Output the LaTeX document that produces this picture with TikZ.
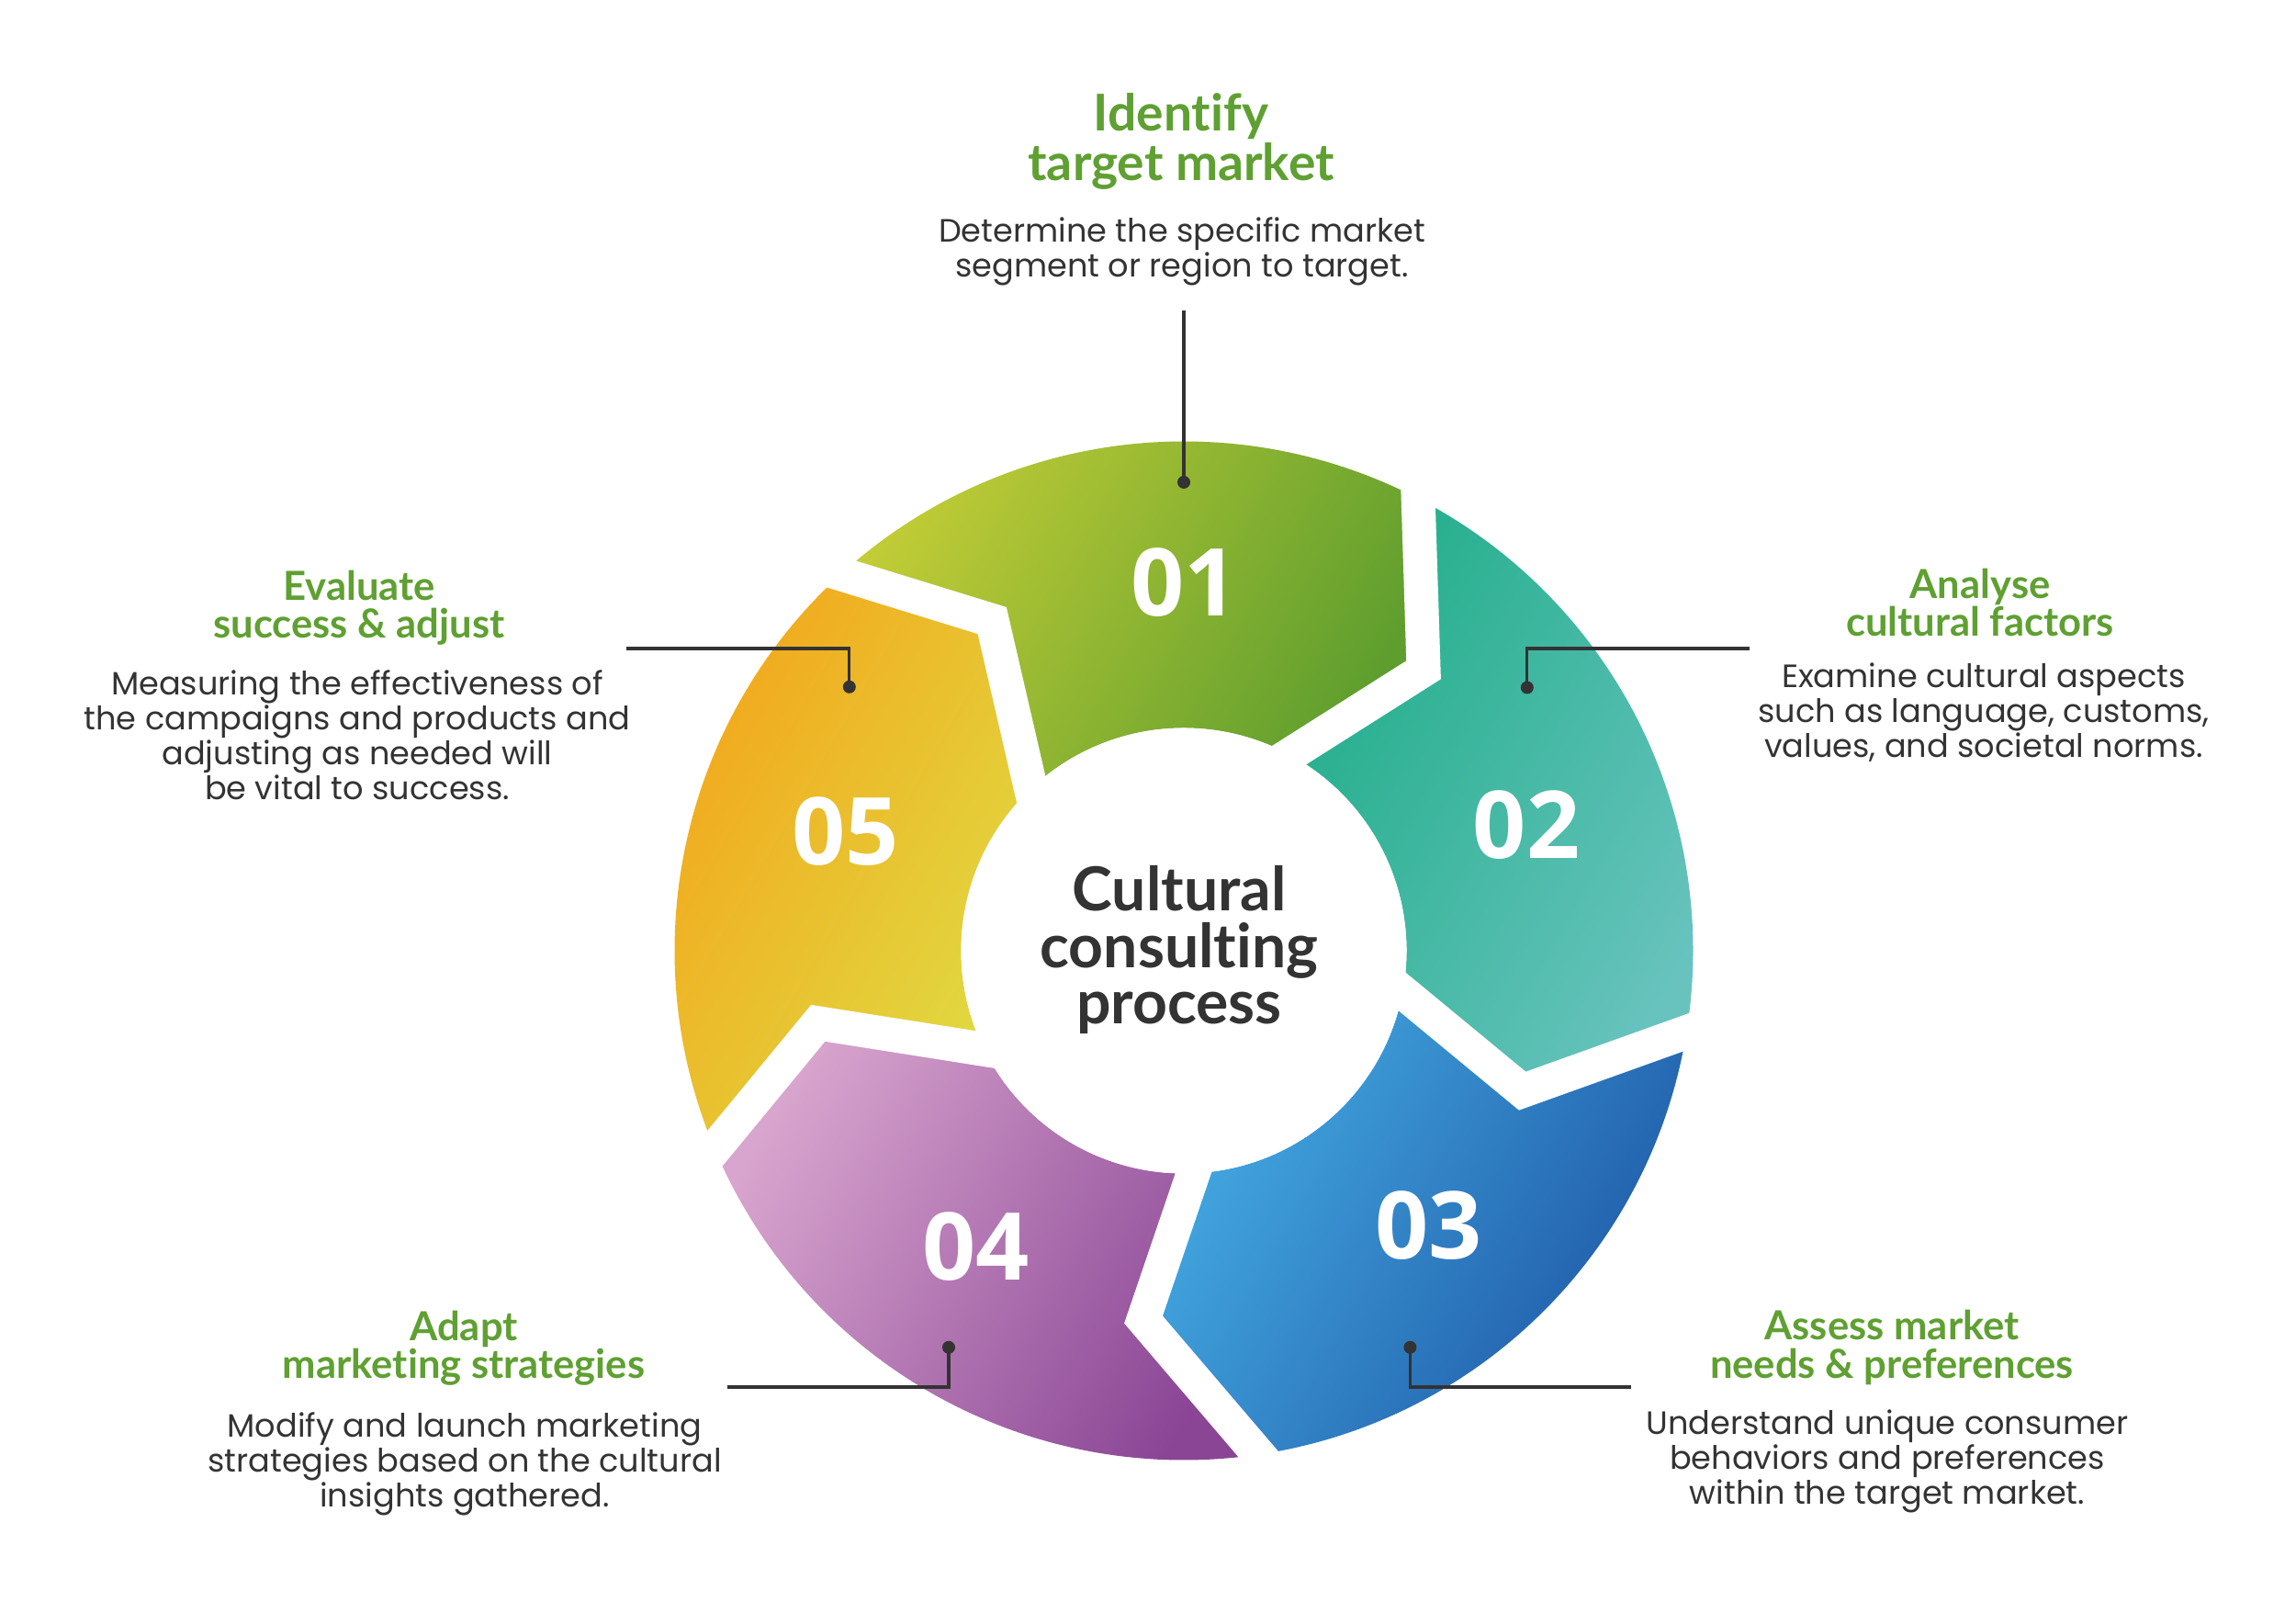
\documentclass[tikz,border=0pt]{standalone}
\usepackage{fontspec}
\setmainfont{Poppins}[BoldFont=* SemiBold]
\newfontfamily\numfont{Open Sans}
\newfontfamily\headfont{Lato}[Ligatures=NoCommon]
\usetikzlibrary{calc}

\definecolor{titlegreen}{HTML}{5FA032}
\definecolor{textgray}{HTML}{333333}
\definecolor{oneA}{HTML}{C3CD36}
\definecolor{oneB}{HTML}{5E9E2E}
\definecolor{twoA}{HTML}{22AE8A}
\definecolor{twoB}{HTML}{68C3BE}
\definecolor{threeA}{HTML}{45ACE3}
\definecolor{threeB}{HTML}{1E58A7}
\definecolor{fourA}{HTML}{D8A5CE}
\definecolor{fourB}{HTML}{8A4595}
\definecolor{fiveA}{HTML}{F4A41A}
\definecolor{fiveB}{HTML}{E0DA42}

\tikzset{
  arrowseg/.style={left color=#1A, right color=#1B, shading angle=60},
  gapline/.style={white, line width=0.37cm, line join=miter},
  leader/.style={textgray, line width=0.9pt},
  steptitle/.style={text=titlegreen, font=\headfont\bfseries\fontsize{12.4}{11.8}\selectfont, align=center},
  steptext/.style={text=textgray, font=\fontsize{10}{10.8}\selectfont, align=center},
  stepnum/.style={text=white, font=\numfont\bfseries\fontsize{29}{29}\selectfont},
}

\begin{document}
\begin{tikzpicture}
      \useasboundingbox (0,0) rectangle (25,17.44);
      \begin{scope}[shift={(12.89,7.09)}]
        % boundaries between the steps: outer end, kink, inner end
        \coordinate (o0) at (62.6:5.545);   \coordinate (v0) at (49.5:4.02);    \coordinate (i0) at (61.6:2.425);
        \coordinate (o1) at (-9.2:5.545);   \coordinate (v1) at (-22.5:3.99);   \coordinate (i1) at (-10.7:2.425);
        \coordinate (o2) at (-81.55:5.545); \coordinate (v2) at (-96.25:4.04);  \coordinate (i2) at (-87.56:2.425);
        \coordinate (o3) at (-157.12:5.545);\coordinate (v3) at (-168.8:4.06);  \coordinate (i3) at (-153.7:2.425);
        \coordinate (o4) at (132.3:5.545);  \coordinate (v4) at (120.15:4.157); \coordinate (i4) at (133.35:2.425);
        \shade[arrowseg=one] (o4) arc[start angle=132.3, end angle=62.6, radius=5.545] -- (v0) -- (i0)
              arc[start angle=61.6, end angle=133.35, radius=2.425] -- (v4) -- cycle;
        \shade[arrowseg=two] (o0) arc[start angle=62.6, end angle=-9.2, radius=5.545] -- (v1) -- (i1)
              arc[start angle=-10.7, end angle=61.6, radius=2.425] -- (v0) -- cycle;
        \shade[arrowseg=three] (o1) arc[start angle=-9.2, end angle=-81.55, radius=5.545] -- (v2) -- (i2)
              arc[start angle=-87.56, end angle=-10.7, radius=2.425] -- (v1) -- cycle;
        \shade[arrowseg=four] (o2) arc[start angle=-81.55, end angle=-157.12, radius=5.545] -- (v3) -- (i3)
              arc[start angle=-153.7, end angle=-87.56, radius=2.425] -- (v2) -- cycle;
        \shade[arrowseg=five] (o3) arc[start angle=-157.12, end angle=-227.7, radius=5.545] -- (v4) -- (i4)
              arc[start angle=-226.65, end angle=-153.7, radius=2.425] -- (v3) -- cycle;
        % white gaps
        \draw[gapline] ($(v0)!1.4!(i0)$) -- (v0) -- ($(v0)!1.3!(o0)$);
        \draw[gapline] ($(v1)!1.4!(i1)$) -- (v1) -- ($(v1)!1.3!(o1)$);
        \draw[gapline] ($(v2)!1.4!(i2)$) -- (v2) -- ($(v2)!1.3!(o2)$);
        \draw[gapline] ($(v3)!1.4!(i3)$) -- (v3) -- ($(v3)!1.3!(o3)$);
        \draw[gapline] ($(v4)!1.4!(i4)$) -- (v4) -- ($(v4)!1.3!(o4)$);
        \fill[white] (0,0) circle (2.425);
      \end{scope}

      \node[stepnum] (n01) at (12.893,11.103) {01};
      \node[stepnum] (n02) at (16.62,8.463) {02};
      \node[stepnum] (n03) at (15.556,4.101) {03};
      \node[stepnum] (n04) at (10.628,3.871) {04};
      \node[stepnum] (n05) at (9.204,8.386) {05};
      \node[text=textgray, font=\headfont\bfseries\fontsize{18.8}{17.6}\selectfont, align=center] (hub) at (12.84,7.10)
            {Cultural\\consulting\\process};

      % leaders
      \coordinate (dot01) at (12.89,12.19);  \coordinate (end01) at (12.89,14.06);
      \coordinate (dot02) at (16.628,9.955); \coordinate (end02) at (19.05,10.38);
      \coordinate (dot03) at (15.354,2.772); \coordinate (end03) at (17.76,2.34);
      \coordinate (dot04) at (10.33,2.772);  \coordinate (end04) at (7.924,2.34);
      \coordinate (dot05) at (9.248,9.962);  \coordinate (end05) at (6.82,10.38);
      \draw[leader] (dot01) -- (end01);
      \draw[leader] (dot02) |- (end02);
      \draw[leader] (dot03) |- (end03);
      \draw[leader] (dot04) |- (end04);
      \draw[leader] (dot05) |- (end05);
      \fill[textgray] (dot01) circle (0.07) (dot02) circle (0.07) (dot03) circle (0.07)
                      (dot04) circle (0.07) (dot05) circle (0.07);

      \node[steptitle, font=\headfont\bfseries\fontsize{15.7}{14}\selectfont] (t01) at (12.86,15.90) {Identify\\target market};
      \node[steptext] (d01) at (12.87,14.70) {Determine the specific market\\segment or region to target.};
      \node[steptitle] (t02) at (21.56,10.88) {Analyse\\cultural factors};
      \node[steptext] (d02) at (21.6,9.68) {Examine cultural aspects\\such as language, customs,\\values, and societal norms.};
      \node[steptitle] (t03) at (20.6,2.77) {Assess market\\needs \& preferences};
      \node[steptext] (d03) at (20.55,1.53) {Understand unique consumer\\behaviors and preferences\\within the target market.};
      \node[steptitle] (t04) at (5.05,2.76) {Adapt\\marketing strategies};
      \node[steptext] (d04) at (5.06,1.50) {Modify and launch marketing\\strategies based on the cultural\\insights gathered.};
      \node[steptitle] (t05) at (3.91,10.82) {Evaluate\\success \& adjust};
      \node[steptext] (d05) at (3.89,9.436) {Measuring the effectiveness of\\the campaigns and products and\\adjusting as needed will\\be vital to success.};
\end{tikzpicture}
\end{document}
